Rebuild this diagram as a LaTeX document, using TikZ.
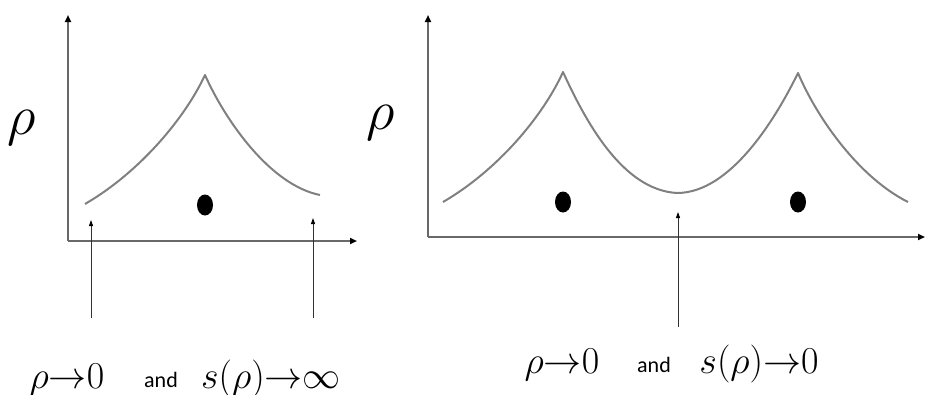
\documentclass[tikz,border=0pt]{standalone}
\usepackage{fix-cm}
\usepackage{fontspec}
\setmainfont{Carlito}
\usetikzlibrary{shapes.geometric,arrows.meta}
\definecolor{curvegray}{RGB}{128,128,128}
\definecolor{axisgray}{RGB}{105,105,105}
\definecolor{pointgray}{RGB}{50,50,50}
\begin{document}
\begin{tikzpicture}[x=1pt,y=-1pt,
  axisline/.style={draw=axisgray,line width=1.8pt,-{Triangle[length=7pt,width=6pt,color=black]}},
  curveline/.style={draw=curvegray,line width=2pt,line join=round},
  pointer/.style={draw=pointgray,line width=0.9pt,-{Triangle[length=6pt,width=4pt,color=black]}},
  blob/.style={ellipse,fill=black,inner sep=0pt,minimum width=16pt,minimum height=21pt},
  rholabel/.style={inner sep=0pt,font=\fontsize{56}{60}\selectfont},
  mathlabel/.style={inner sep=0pt,anchor=base,font=\fontsize{38}{42}\selectfont},
  andlabel/.style={inner sep=0pt,anchor=base,font=\fontsize{22}{24}\selectfont}
]
\useasboundingbox (0,0) rectangle (925,394);

% ---------- left panel ----------
\coordinate (LO) at (68,241);
\coordinate (LY) at (68,15);
\coordinate (LX) at (357,241);
\draw[axisline] (LO) -- (LY);
\draw[axisline] (LO) -- (LX);
\node[rholabel] (lrho) at (22,128) {$\rho$};

\draw[curveline] (85,204) .. controls (140,172) and (185,118) .. (205,75)
  .. controls (225,120) and (270,185) .. (320,195);
\node[blob] (ldot) at (205,205) {};

\coordinate (lp1t) at (91,318);
\coordinate (lp1h) at (91,220);
\coordinate (lp2t) at (313,318);
\coordinate (lp2h) at (313,218);
\draw[pointer] (lp1t) -- (lp1h);
\draw[pointer] (lp2t) -- (lp2h);

\node[mathlabel] (lt1) at (67,388) {${\rho}{\rightarrow}{0}$};
\node[andlabel] (lt2) at (161,387) {and};
\node[mathlabel] (lt3) at (271,388) {${s}{(}{\rho}{)}{\rightarrow}{\infty}$};

% ---------- right panel ----------
\coordinate (RO) at (428,237);
\coordinate (RY) at (428,15);
\coordinate (RX) at (925,237);
\draw[axisline] (RO) -- (RY);
\draw[axisline] (RO) -- (RX);
\node[rholabel] (rrho) at (381,123) {$\rho$};

\draw[curveline] (443,202) .. controls (498,170) and (543,116) .. (563,72)
  .. controls (585,120) and (622,190) .. (677,193)
  .. controls (730,193) and (775,120) .. (798,73)
  .. controls (818,120) and (860,178) .. (908,202);
\node[blob] (rdot1) at (563,202) {};
\node[blob] (rdot2) at (798,202) {};

\coordinate (rpt) at (678,327);
\coordinate (rph) at (678,212);
\draw[pointer] (rpt) -- (rph);

\node[mathlabel] (rt1) at (562,373) {${\rho}{\rightarrow}{0}$};
\node[andlabel] (rt2) at (654,372) {and};
\node[mathlabel] (rt3) at (759,373) {${s}{(}{\rho}{)}{\rightarrow}{0}$};
\end{tikzpicture}
\end{document}
